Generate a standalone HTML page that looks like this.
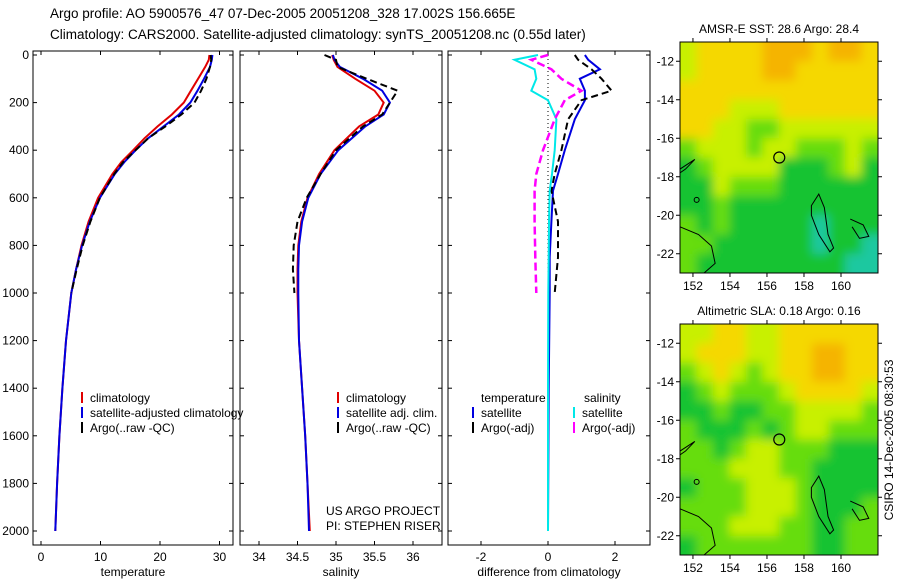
<!DOCTYPE html>
<html><head><meta charset="utf-8"><style>
body{margin:0;background:#fff}
svg{display:block;font-family:"Liberation Sans",sans-serif}
</style></head><body>
<svg id="c" width="900" height="580" viewBox="0 0 900 580">
<defs>
<filter id="blur" x="-10%" y="-10%" width="120%" height="120%"><feGaussianBlur stdDeviation="5"/></filter>
<clipPath id="clipTop"><rect x="680" y="42" width="198" height="231"/></clipPath>
<clipPath id="clipBot"><rect x="680" y="324" width="198" height="231"/></clipPath>
</defs>
<text x="50" y="18" font-size="13.5">Argo profile: AO 5900576_47 07-Dec-2005 20051208_328 17.002S 156.665E</text>
<text x="50" y="39" font-size="13.5">Climatology: CARS2000. Satellite-adjusted climatology: synTS_20051208.nc (0.55d later)</text>
<g id="g"></g>
<text transform="translate(893,440) rotate(-90)" text-anchor="middle" font-size="12">CSIRO 14-Dec-2005 08:30:53</text>
</svg>
<script>
// ---- data ----
const depthTicks=[0,200,400,600,800,1000,1200,1400,1600,1800,2000];
const tempTicks=[0,10,20,30];
const salTicks=[34,34.5,35,35.5,36];
const salTickLabels=["34","34.5","35","35.5","36"];
const diffTicks=[-2,0,2];
const tDepth=[0,20,50,100,150,200,250,300,350,400,450,500,600,700,800,900,1000,1200,1400,1600,1800,2000];
const tClim=[28.3,28.2,27.6,26.4,25.2,24.0,22.0,19.6,17.4,15.5,13.5,12.0,9.6,8.0,6.8,5.9,5.1,4.2,3.6,3.1,2.7,2.4];
const tSat=[28.8,28.7,28.4,27.4,26.3,25.1,23.2,20.6,18.0,15.9,14.0,12.4,9.9,8.2,6.9,5.9,5.1,4.2,3.6,3.1,2.7,2.4];
const tArgo=[28.5,28.6,28.4,27.8,26.9,25.8,23.6,20.9,18.0,15.9,13.8,12.3,9.9,8.3,7.0,6.0,5.1];
const sDepth=[0,20,50,100,150,200,250,300,400,500,600,700,800,900,1000,1200,1400,1600,1800,2000];
const sClim=[34.95,34.97,35.02,35.25,35.5,35.62,35.55,35.3,34.98,34.78,34.63,34.55,34.51,34.5,34.5,34.52,34.56,34.6,34.63,34.66];
const sSat=[34.96,34.98,35.05,35.35,35.6,35.7,35.62,35.38,35.03,34.8,34.64,34.56,34.52,34.51,34.51,34.52,34.56,34.6,34.63,34.65];
const sArgo=[34.85,35.0,35.02,35.4,35.8,35.7,35.6,35.35,35.0,34.8,34.62,34.5,34.45,34.44,34.46];
const dDepth=[0,20,60,100,150,190,270,400,500,570,700,850,1000,1400,2000];
const dTempSat=[1.1,1.2,1.55,0.95,1.1,1.1,0.8,0.5,0.3,0.15,0.1,0.05,0.05,0.02,0.0];
const dSalSat=[-0.3,-1.0,-0.4,-0.35,-0.5,0.0,0.25,0.2,0.12,0.05,0.03,0.02,0.01,0.0,0.0];
const dTempArgo=[0.8,0.9,1.3,1.6,1.9,1.0,0.6,0.4,0.2,0.1,0.3,0.3,0.2];
const dSalArgo=[0.0,-0.5,0.1,0.4,1.0,0.5,0.2,-0.15,-0.35,-0.4,-0.4,-0.38,-0.35];
const mapXTicks=[152,154,156,158,160];
const mapYTicks=[-12,-14,-16,-18,-20,-22];
const sstGrid=[
[3,4,4,4,4,5,5,5,4,5,5,4],[3,4,4,4,4,5,5,4,4,4,4,4],[4,4,4,4,4,4,4,4,4,4,4,4],
[4,4,4,3,3,3,4,4,4,4,4,4],[4,4,3,3,2,2,3,3,3,3,3,3],[2,3,3,3,2,3,3,2,2,2,3,2],
[1,2,3,3,3,3,1,1,1,2,3,1],[1,1,3,2,2,2,1,1,1,1,1,1],[1,1,2,1,1,1,1,1,1,1,1,1],
[2,1,2,1,1,1,1,1,0,1,1,1],[2,2,1,1,1,1,1,1,0,1,1,0],[2,1,1,1,1,1,1,1,1,1,0,0]];
const slaGrid=[
[3,3,4,4,3,3,4,4,4,4,4,4],[3,4,4,4,3,3,4,4,5,5,4,4],[2,3,4,3,2,3,4,4,5,5,4,4],
[1,2,3,2,2,2,3,4,4,4,4,3],[1,1,2,1,1,2,2,3,3,3,3,2],[2,1,1,1,2,1,2,3,3,2,2,2],
[2,2,1,2,3,3,2,2,2,1,1,1],[2,2,2,3,3,3,2,2,1,1,1,1],[1,2,2,2,3,3,3,2,1,1,1,1],
[2,2,2,2,3,3,3,2,1,1,1,2],[2,2,2,3,3,3,2,2,1,1,2,2],[1,2,2,2,2,2,2,2,1,1,2,2]];
const argoLon=156.665, argoLat=-17.0;
// ---- drawing ----
const NS="http://www.w3.org/2000/svg", G=document.getElementById('g');
function el(t,a,p){const e=document.createElementNS(NS,t);for(const k in a)e.setAttribute(k,a[k]);(p||G).appendChild(e);return e;}
const Y=d=>55+d*(476/2000);
const colors=["#1ec8a0","#19c332","#66dd0c","#c8f000","#f5d800","#f5b400"];
function panel(name,x0,x1,xs,ticks,labels,xlabel,showY){
  const f=el('rect',{x:x0,y:51,width:x1-x0,height:494,fill:'none',stroke:'#000','stroke-width':1});
  
  ticks.forEach((t,i)=>{const x=xs(t);el('line',{x1:x,x2:x,y1:545,y2:541,stroke:'#000'});el('line',{x1:x,x2:x,y1:51,y2:55,stroke:'#000'});
    const tx=el('text',{x:x,y:561,'font-size':12,'text-anchor':'middle'});tx.textContent=labels[i];
    });
  const xl=el('text',{x:(x0+x1)/2,y:576,'font-size':12,'text-anchor':'middle'});xl.textContent=xlabel;
  
  depthTicks.forEach(d=>{el('line',{x1:x0,x2:x0+4,y1:Y(d),y2:Y(d),stroke:'#000'});el('line',{x1:x1,x2:x1-4,y1:Y(d),y2:Y(d),stroke:'#000'});
    if(showY){const t=el('text',{x:x0-4,y:Y(d)+4,'font-size':12,'text-anchor':'end'});t.textContent=d;
    }});
}
function line(name,xs,vals,deps,col,w,dash){
  const p=vals.map((v,i)=>xs(v).toFixed(1)+','+Y(deps[i]).toFixed(1)).join(' ');
  const a={points:p,fill:'none',stroke:col,'stroke-width':w};if(dash)a['stroke-dasharray']=dash;
  const e=el('polyline',a);
}
function legend(name,x,y,items){
  items.forEach((it,i)=>{const yy=y+i*15;
    el('line',{x1:x,x2:x,y1:yy-6,y2:yy+5,stroke:it[1],'stroke-width':2});
    const t=el('text',{x:x+8,y:yy+4,'font-size':12});t.textContent=it[0];
    });
}
// panel 1
const xT=v=>41+v*5.95;
panel('temperature-panel',33,233,xT,tempTicks,tempTicks.map(String),'temperature',true);
line('temp-climatology',xT,tClim,tDepth,'#e00000',2);
line('temp-satellite-adjusted',xT,tSat,tDepth,'#0000e0',2);
line('temp-argo',xT,tArgo,tDepth,'#000',2,'7,4');
legend('temp-legend',82,398,[['climatology','#e00000'],['satellite-adjusted climatology','#0000e0'],['Argo(..raw -QC)','#000']]);
// panel 2
const xS=v=>259+(v-34)*77;
panel('salinity-panel',240,442,xS,salTicks,salTickLabels,'salinity',false);
line('sal-climatology',xS,sClim,sDepth,'#e00000',2);
line('sal-satellite-adjusted',xS,sSat,sDepth,'#0000e0',2);
line('sal-argo',xS,sArgo,sDepth,'#000',2,'7,4');
legend('sal-legend',338,398,[['climatology','#e00000'],['satellite adj. clim.','#0000e0'],['Argo(..raw -QC)','#000']]);
let t=el('text',{x:326,y:515,'font-size':12});t.textContent='US ARGO PROJECT';
t=el('text',{x:326,y:530,'font-size':12});t.textContent='PI: STEPHEN RISER';
// panel 3
const xD=v=>548+v*33.5;
panel('difference-panel',448,650,xD,diffTicks,diffTicks.map(String),'difference from climatology',false);
el('line',{x1:xD(0),x2:xD(0),y1:Y(0),y2:Y(2000),stroke:'#000','stroke-dasharray':'1,3'});
line('diff-temp-satellite',xD,dTempSat,dDepth,'#0000e0',2);
line('diff-temp-argo',xD,dTempArgo,dDepth,'#000',2,'7,4');
line('diff-sal-satellite',xD,dSalSat,dDepth,'#00e8e8',2);
line('diff-sal-argo',xD,dSalArgo,dDepth,'#ff00ff',2.5,'8,4');
t=el('text',{x:481,y:402,'font-size':12});t.textContent='temperature';
t=el('text',{x:584,y:402,'font-size':12});t.textContent='salinity';
legend('diff-temp-legend',473,413,[['satellite','#0000e0'],['Argo(-adj)','#000']]);
legend('diff-sal-legend',574,413,[['satellite','#00e8e8'],['Argo(-adj)','#ff00ff']]);
// maps
function map(name,title,grid,top,clip){
  const x0=680,x1=878,y0=top,y1=top+231,lon0=151.3,lon1=162,lat0=-11,lat1=-23;
  const mx=v=>x0+(v-lon0)/(lon1-lon0)*(x1-x0), my=v=>y0+(v-lat0)/(lat1-lat0)*(y1-y0);
  const tt=el('text',{x:(x0+x1)/2,y:top-9,'font-size':12,'text-anchor':'middle'});tt.textContent=title;
  
  const outer=el('g',{'clip-path':'url(#'+clip+')'});
  const cg=el('g',{filter:'url(#blur)'},outer);
  const rows=grid.length,cols=grid[0].length,cw=(x1-x0)/cols,ch=(y1-y0)/rows;
  grid.forEach((r,i)=>r.forEach((v,j)=>{
    // extend edge cells outward so blur doesn't fade at borders
    const ex=j==0?-12:0, ey=i==0?-12:0, ew=(j==0||j==cols-1)?12:0, eh=(i==0||i==rows-1)?12:0;
    const c=el('rect',{x:x0+j*cw+ex,y:y0+i*ch+ey,width:cw+0.5+ew,height:ch+0.5+eh,fill:colors[v]},cg);
    }));
  el('polygon',{points:[[158.4,-19.5],[158.8,-18.9],[159.1,-19.6],[159.3,-21],[159.6,-21.7],[159.4,-21.9],[158.8,-21],[158.4,-20]].map(p=>mx(p[0])+','+my(p[1])).join(' '),fill:'none',stroke:'#000','stroke-width':1});
  el('polyline',{points:[[160.5,-20.2],[161.2,-20.5],[161.5,-21.1],[161,-21.2],[160.6,-20.6]].map(p=>mx(p[0])+','+my(p[1])).join(' '),fill:'none',stroke:'#000'});
  el('polyline',{points:[[151.3,-20.6],[152.3,-21],[153,-21.6],[153.2,-22.5],[152.6,-23]].map(p=>mx(p[0])+','+my(p[1])).join(' '),fill:'none',stroke:'#000'});
  el('polyline',{points:[[151.3,-17.6],[152.1,-17.1],[151.6,-17.6],[151.3,-17.8]].map(p=>mx(p[0])+','+my(p[1])).join(' '),fill:'none',stroke:'#000'});
  el('circle',{cx:mx(152.2),cy:my(-19.2),r:2.5,fill:'none',stroke:'#000'});
  el('rect',{x:x0,y:y0,width:x1-x0,height:y1-y0,fill:'none',stroke:'#000'});
  const ci=el('circle',{cx:mx(argoLon),cy:my(argoLat),r:5.5,fill:'none',stroke:'#000','stroke-width':1.2});
  
  mapXTicks.forEach(v=>{el('line',{x1:mx(v),x2:mx(v),y1:y1,y2:y1+4,stroke:'#000'});el('line',{x1:mx(v),x2:mx(v),y1:y0,y2:y0-4,stroke:'#000'});
    const l=el('text',{x:mx(v),y:y1+17,'font-size':12,'text-anchor':'middle'});l.textContent=v;
    });
  mapYTicks.forEach(v=>{el('line',{x1:x0,x2:x0-4,y1:my(v),y2:my(v),stroke:'#000'});el('line',{x1:x1,x2:x1+4,y1:my(v),y2:my(v),stroke:'#000'});
    const l=el('text',{x:x0-6,y:my(v)+4,'font-size':12,'text-anchor':'end'});l.textContent=v;
    });
}
map('sst-map','AMSR-E SST: 28.6 Argo: 28.4',sstGrid,42,'clipTop');
map('sla-map','Altimetric SLA: 0.18 Argo: 0.16',slaGrid,324,'clipBot');
</script>
</body></html>
